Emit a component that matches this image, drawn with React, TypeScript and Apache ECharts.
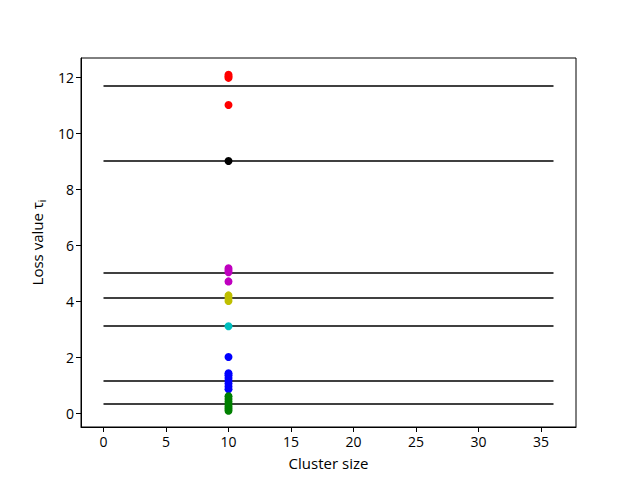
import React, { useEffect, useRef } from "react";
import * as echarts from "echarts";

const clusterX = 10;
const redVals = [12.08, 12.02, 11.97, 11.0];
const blackVals = [9.0];
const magentaVals = [5.17, 5.1, 5.03, 4.7];
const yellowVals = [4.2, 4.1, 4.0];
const cyanVals = [3.1];
const blueVals = [2.0, 1.42, 1.35, 1.25, 1.15, 1.05, 0.95, 0.85];
const greenVals = [0.6, 0.5, 0.4, 0.3, 0.22, 0.15, 0.08];
const thresholds = [11.68, 9.0, 5.0, 4.11, 3.11, 1.14, 0.32];
const lineStart = 0;
const lineEnd = 36;
const xTicks = [0, 5, 10, 15, 20, 25, 30, 35];
const yTicks = [0, 2, 4, 6, 8, 10, 12];

const groups: [number[], string][] = [
  [redVals, "#ff0000"],
  [blackVals, "#000000"],
  [magentaVals, "#bf00bf"],
  [yellowVals, "#bfbf00"],
  [cyanVals, "#00bfbf"],
  [blueVals, "#0000ff"],
  [greenVals, "#008000"],
];

export default function App() {
  const ref = useRef<HTMLDivElement>(null);
  useEffect(() => {
    const chart = echarts.init(ref.current!, null, { renderer: "svg" });
    const font = "Open Sans";
    const series: any[] = [];
    thresholds.forEach((t) => {
      series.push({
        type: "line",
        data: [[lineStart, t], [lineEnd, t]],
        showSymbol: false,
        symbol: "none",
        lineStyle: { color: "#000", width: 1.5 },
        z: 1,
        silent: true,
      });
    });
    groups.forEach(([vals, color]) => {
      series.push({
        type: "scatter",
        data: vals.map((v) => [clusterX, v]),
        symbol: "circle",
        symbolSize: 8,
        itemStyle: { color, opacity: 1 },
        z: 3,
      });
    });
    chart.setOption({
      animation: false,
      grid: {
        left: 81,
        right: 64,
        top: 58,
        bottom: 53,
        show: true,
        borderColor: "#000",
        borderWidth: 1,
        backgroundColor: "transparent",
      },
      xAxis: {
        type: "value",
        min: -1.8,
        max: 37.8,
        name: "Cluster size",
        nameLocation: "middle",
        nameGap: 28,
        nameTextStyle: { fontFamily: font, fontSize: 15, color: "#000" },
        axisLine: { show: true, onZero: false, lineStyle: { color: "#000", width: 1 } },
        axisTick: { show: true, length: 5, lineStyle: { color: "#000" }, customValues: xTicks },
        axisLabel: { customValues: xTicks, fontFamily: font, fontSize: 14, color: "#000", margin: 7 },
        splitLine: { show: false },
      },
      yAxis: {
        type: "value",
        min: -0.5,
        max: 12.68,
        name: "Loss value τ{sub|i}",
        nameLocation: "middle",
        nameGap: 33,
        nameRotate: 90,
        nameTextStyle: {
          fontFamily: font,
          fontSize: 15,
          color: "#000",
          rich: {
            sub: { fontFamily: font, fontSize: 10, color: "#000", verticalAlign: "bottom", padding: [0, 0, -3, 0] },
          },
        },
        axisLine: { show: true, onZero: false, lineStyle: { color: "#000", width: 1 } },
        axisTick: { show: true, length: 5, lineStyle: { color: "#000" }, customValues: yTicks },
        axisLabel: { customValues: yTicks, fontFamily: font, fontSize: 14, color: "#000", margin: 7 },
        splitLine: { show: false },
      },
      series,
    });
    return () => chart.dispose();
  }, []);
  return <div ref={ref} style={{ width: 640, height: 480, position: "absolute", left: 0, top: 0 }} />;
}
